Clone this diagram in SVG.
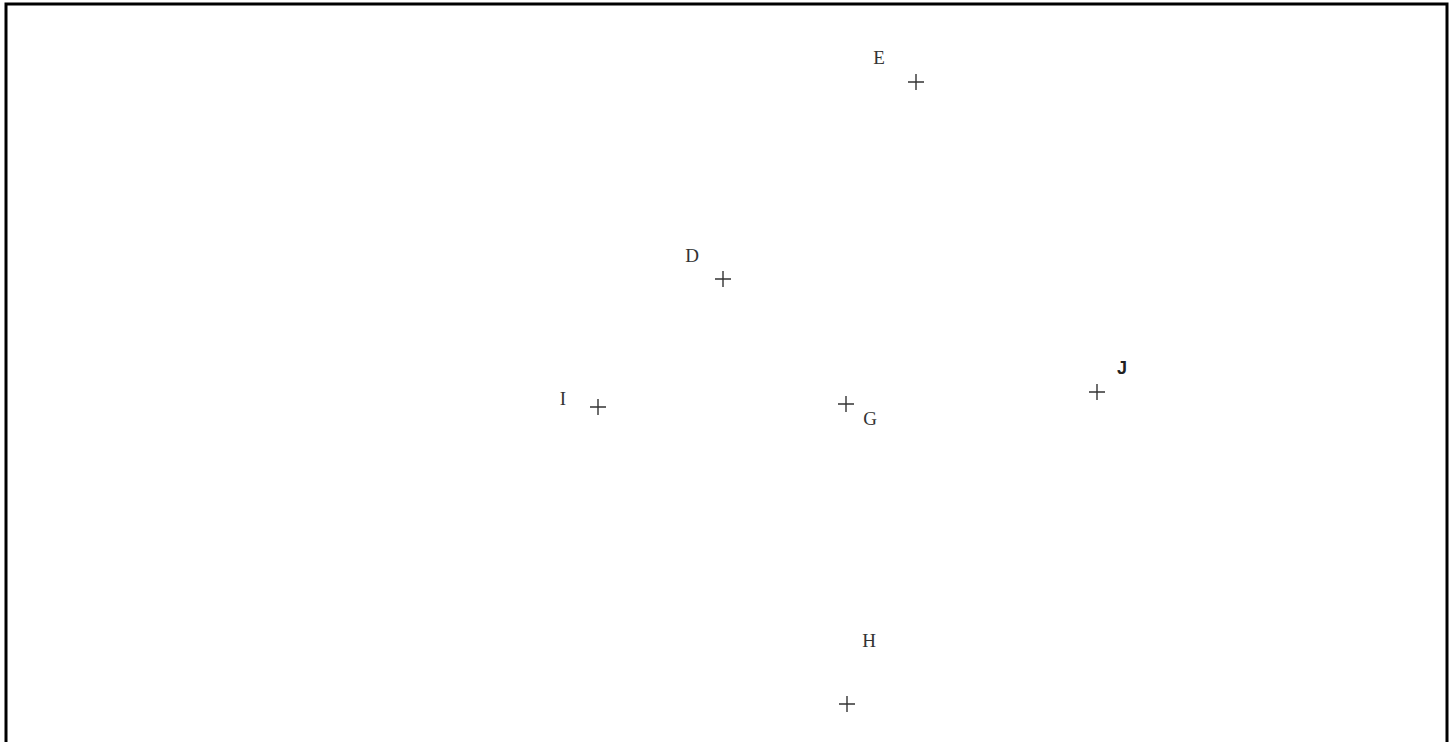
<svg xmlns="http://www.w3.org/2000/svg" width="1454" height="742" viewBox="0 0 1454 742">
<style>
.frame{fill:none;stroke:#000;stroke-width:3}
.cross{stroke:#333;stroke-width:1.4;fill:none}
.lbl{font-family:"Liberation Serif",serif;font-size:19px;fill:#333;text-anchor:middle}
.lblj{font-family:"Liberation Sans",sans-serif;font-size:18px;font-weight:bold;fill:#222;text-anchor:middle}
</style>
<rect width="1454" height="742" fill="#fff"/>
<path class="frame" d="M6,745 V4 H1447 V745"/>
<g id="E"><path class="cross" d="M908,82 H924 M916,74 V90"/><text class="lbl" x="879" y="64">E</text></g>
<g id="D"><path class="cross" d="M715,279 H731 M723,271 V287"/><text class="lbl" x="692" y="262">D</text></g>
<g id="I"><path class="cross" d="M590,407 H606 M598,399 V415"/><text class="lbl" x="563" y="405">I</text></g>
<g id="G"><path class="cross" d="M838,404 H854 M846,396 V412"/><text class="lbl" x="870" y="425">G</text></g>
<g id="J"><path class="cross" d="M1089,392 H1105 M1097,384 V400"/><text class="lblj" x="1122" y="374">J</text></g>
<g id="H"><path class="cross" d="M839,704 H855 M847,696 V712"/><text class="lbl" x="869" y="647">H</text></g>
<g id="connectors"></g>
</svg>
